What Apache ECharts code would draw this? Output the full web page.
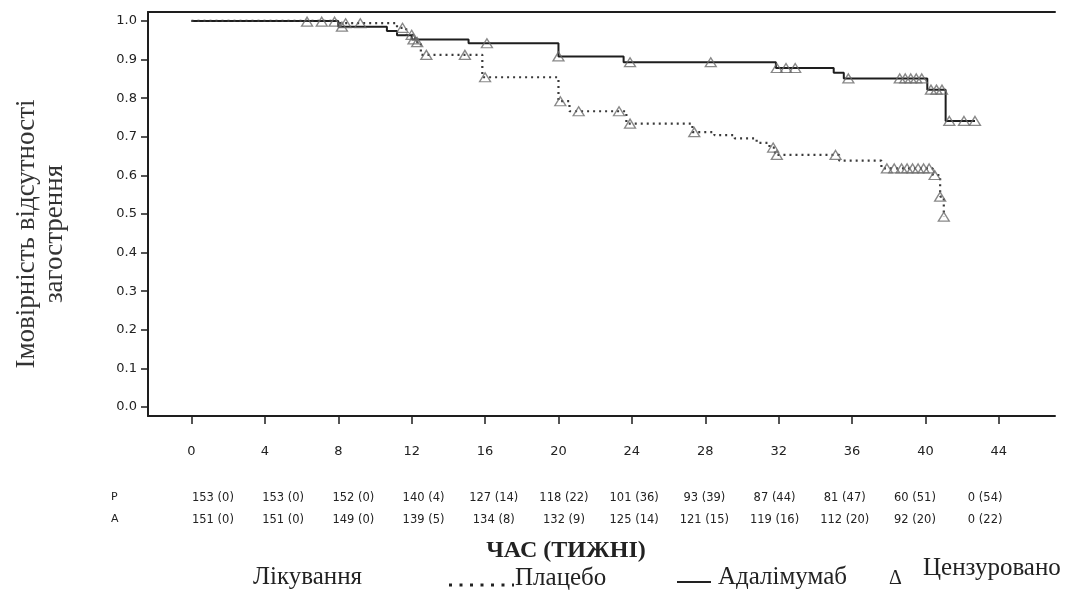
<!DOCTYPE html>
<html><head><meta charset="utf-8">
<script src="https://cdn.jsdelivr.net/npm/echarts@6/dist/echarts.min.js"></script>
<style>html,body{margin:0;padding:0;background:#fff}#c{width:1066px;height:604px}</style>
</head><body><div id="c"></div>
<script>
// ---- data ----
const weekTicks = [0, 4, 8, 12, 16, 20, 24, 28, 32, 36, 40, 44];
const probTicks = [0, 0.1, 0.2, 0.3, 0.4, 0.5, 0.6, 0.7, 0.8, 0.9, 1.0];

// Kaplan-Meier step curves: [week, probability]
const adalimumabCurve = [
  [0, 1.0], [8.0, 0.985], [10.65, 0.974], [11.2, 0.963], [12.0, 0.952],
  [15.1, 0.942], [20.0, 0.908], [23.55, 0.893], [31.85, 0.878], [35.0, 0.866],
  [35.55, 0.851], [40.1, 0.822], [41.1, 0.741], [42.7, 0.741]
];
const placeboCurve = [
  [0, 1.0], [8.0, 0.994], [11.2, 0.982], [11.7, 0.964], [12.2, 0.945],
  [12.5, 0.912], [15.85, 0.854], [20.0, 0.792], [20.6, 0.766], [23.7, 0.734],
  [27.3, 0.712], [28.5, 0.704], [29.6, 0.696], [30.8, 0.684], [31.5, 0.672],
  [31.8, 0.653], [35.3, 0.638], [37.6, 0.618], [40.4, 0.601], [40.8, 0.545],
  [41.0, 0.493]
];
// censored observations
const adalimumabCensored = [
  [8.2, 0.985], [12.1, 0.952], [16.1, 0.942], [20.0, 0.908], [23.9, 0.893],
  [28.3, 0.893], [31.9, 0.878], [32.4, 0.878], [32.9, 0.878], [35.8, 0.851],
  [38.6, 0.851], [38.9, 0.851], [39.2, 0.851], [39.5, 0.851], [39.8, 0.851],
  [40.3, 0.822], [40.6, 0.822], [40.9, 0.822], [41.3, 0.741], [42.1, 0.741],
  [42.7, 0.741]
];
const placeboCensored = [
  [6.3, 0.998], [7.1, 0.998], [7.8, 0.998], [8.4, 0.994], [9.2, 0.994],
  [11.5, 0.982], [12.0, 0.964], [12.3, 0.945], [12.8, 0.912], [14.9, 0.912],
  [16.0, 0.854], [20.1, 0.792], [21.1, 0.766], [23.3, 0.766], [23.9, 0.734],
  [27.4, 0.712], [31.7, 0.672], [31.9, 0.653], [35.1, 0.653], [37.9, 0.618],
  [38.3, 0.618], [38.7, 0.618], [39.0, 0.618], [39.3, 0.618], [39.6, 0.618],
  [39.9, 0.618], [40.2, 0.618], [40.5, 0.601], [40.8, 0.545], [41.0, 0.493]
];
// numbers at risk (events)
const riskPlacebo = ['153 (0)', '153 (0)', '152 (0)', '140 (4)', '127 (14)', '118 (22)', '101 (36)', '93 (39)', '87 (44)', '81 (47)', '60 (51)', '0 (54)'];
const riskAdalimumab = ['151 (0)', '151 (0)', '149 (0)', '139 (5)', '134 (8)', '132 (9)', '125 (14)', '121 (15)', '119 (16)', '112 (20)', '92 (20)', '0 (22)'];

// ---- chart ----
const chart = echarts.init(document.getElementById('c'), null, {renderer: 'canvas'});
const ink = '#1e1e1e';
const tickFont = {fontFamily: 'DejaVu Sans', fontSize: 13, color: '#222'};
const riskFont = {fontFamily: 'DejaVu Sans', fontSize: 11.5, color: '#222'};
const serif = 'Liberation Serif';

function riskAxis(labels, offset) {
  return {
    type: 'value', min: -3.70, max: 47.98, position: 'bottom', offset: offset,
    axisLine: {show: false}, axisTick: {show: false}, splitLine: {show: false},
    axisLabel: Object.assign({customValues: weekTicks, margin: 0,
      formatter: v => labels[weekTicks.indexOf(v)]}, riskFont)
  };
}

chart.setOption({
  animation: false,
  backgroundColor: '#fff',
  grid: {left: 148, right: 11, top: 12, height: 404},
  xAxis: [
    {
      type: 'value', min: -2.37, max: 47.06, position: 'bottom',
      axisLine: {show: true, onZero: false, lineStyle: {color: ink, width: 2}},
      axisTick: {show: true, customValues: weekTicks, length: 8, lineStyle: {color: ink, width: 1.5}},
      axisLabel: Object.assign({customValues: weekTicks, margin: 29}, tickFont),
      splitLine: {show: false}
    },
    {
      type: 'value', min: -2.37, max: 47.06, position: 'top',
      axisLine: {show: true, onZero: false, lineStyle: {color: ink, width: 2}},
      axisTick: {show: false}, axisLabel: {show: false}, splitLine: {show: false}
    },
    riskAxis(riskPlacebo, 76),
    riskAxis(riskAdalimumab, 98)
  ],
  yAxis: {
    type: 'value', min: -0.023, max: 1.023,
    axisLine: {show: true, onZero: false, lineStyle: {color: ink, width: 2}},
    axisTick: {show: true, customValues: probTicks, length: 7, lineStyle: {color: ink, width: 1.5}},
    axisLabel: Object.assign({customValues: probTicks, margin: 11, formatter: v => v.toFixed(1)}, tickFont),
    splitLine: {show: false},
    name: 'Імовірність відсутності\nзагострення',
    nameLocation: 'middle', nameRotate: 90, nameGap: 79,
    nameTextStyle: {fontFamily: serif, fontSize: 27, lineHeight: 28, color: '#333', padding: [0, 40, 0, 0]}
  },
  series: [
    {
      name: 'Адалімумаб', type: 'line', step: 'end', data: adalimumabCurve,
      symbol: 'none', lineStyle: {color: ink, width: 2}, z: 3
    },
    {
      name: 'Плацебо', type: 'line', step: 'end', data: placeboCurve,
      symbol: 'none', lineStyle: {color: '#3a3a3a', width: 2.2, type: [2, 4]}, z: 3
    },
    {
      name: 'Цензуровано', type: 'scatter', data: adalimumabCensored.concat(placeboCensored),
      symbol: 'triangle', symbolSize: [11, 9],
      itemStyle: {color: 'rgba(255,255,255,0)', borderColor: '#6a6a6a', borderWidth: 1.3}, z: 4
    }
  ],
  graphic: [
    {type: 'text', left: 111, top: 492, style: {text: 'P', font: '11px "DejaVu Sans"', fill: '#222'}},
    {type: 'text', left: 111, top: 514, style: {text: 'A', font: '11px "DejaVu Sans"', fill: '#222'}},
    {type: 'text', x: 566, y: 551, style: {text: 'ЧАС (ТИЖНІ)', font: 'bold 24px "Liberation Serif"', fill: '#222', align: 'center', verticalAlign: 'middle'}},
    {type: 'text', x: 253, y: 577, style: {text: 'Лікування', font: '25px "Liberation Serif"', fill: '#222', verticalAlign: 'middle'}},
    {type: 'line', shape: {x1: 449, y1: 585, x2: 514, y2: 585}, style: {stroke: '#222', lineWidth: 3, lineDash: [3, 7.5]}},
    {type: 'text', x: 515, y: 578, style: {text: 'Плацебо', font: '25px "Liberation Serif"', fill: '#222', verticalAlign: 'middle'}},
    {type: 'line', shape: {x1: 677, y1: 582, x2: 711, y2: 582}, style: {stroke: '#222', lineWidth: 2}},
    {type: 'text', x: 718, y: 577, style: {text: 'Адалімумаб', font: '25px "Liberation Serif"', fill: '#222', verticalAlign: 'middle'}},
    {type: 'text', x: 889, y: 579, style: {text: 'Δ', font: '20px "Liberation Serif"', fill: '#222', verticalAlign: 'middle'}},
    {type: 'text', x: 923, y: 568, style: {text: 'Цензуровано', font: '25px "Liberation Serif"', fill: '#222', verticalAlign: 'middle'}}
  ]
});
</script></body></html>
